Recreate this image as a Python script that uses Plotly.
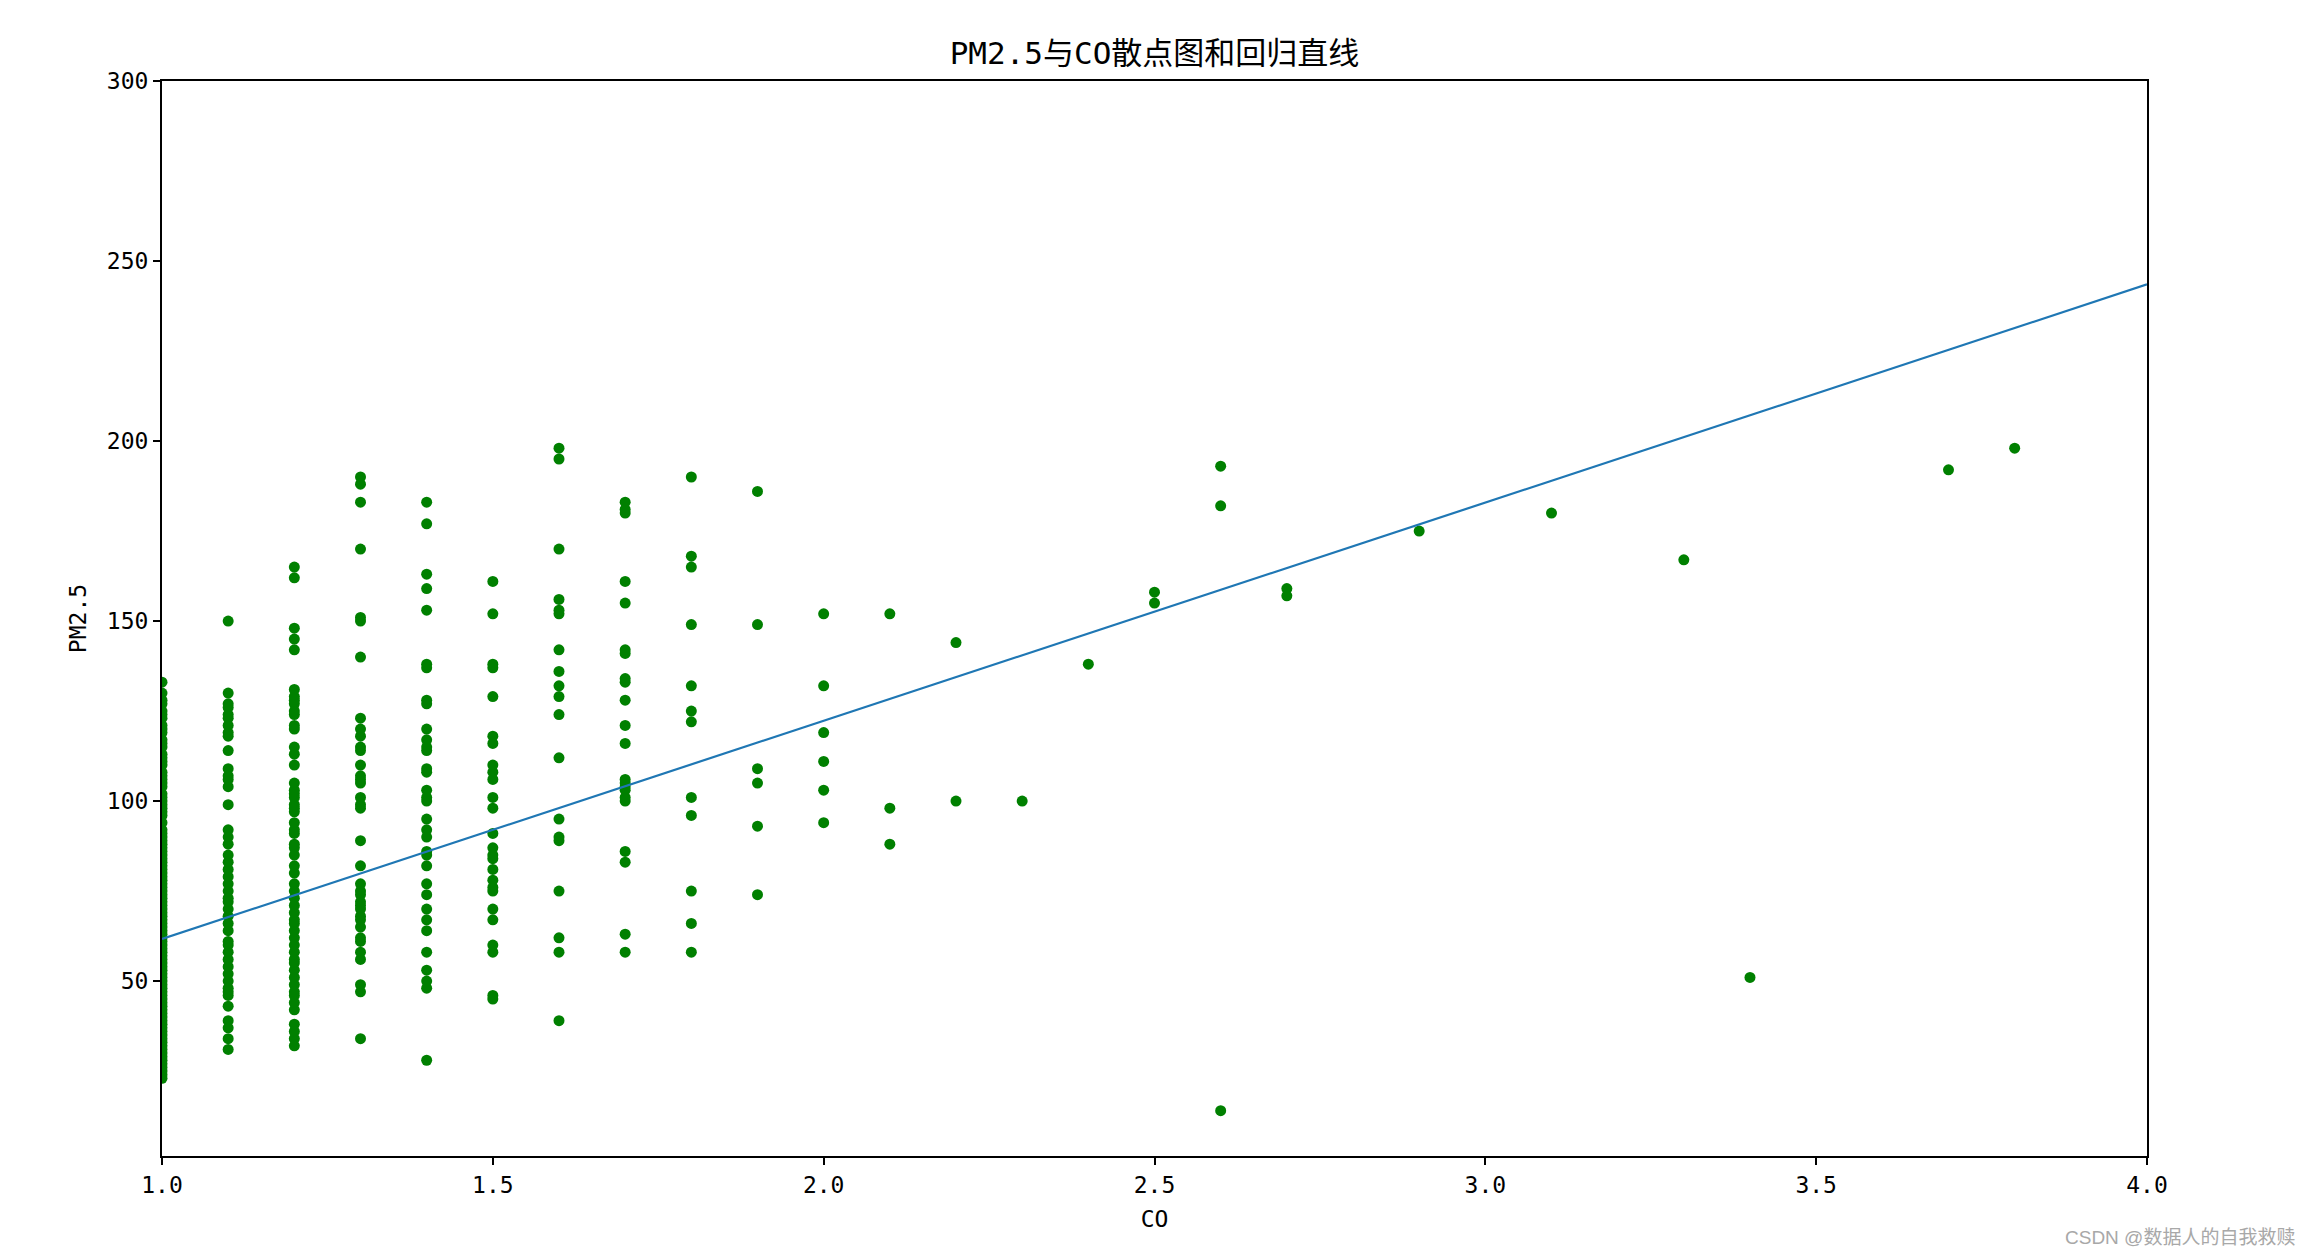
import plotly.graph_objects as go

# ---- data ----
# PM2.5 values observed at each CO level
pm_co_10 = [133, 130, 128, 127, 125, 124, 123, 121, 120, 119, 117, 116, 115, 113, 112, 111,
            110, 108, 107, 106, 105, 104, 102, 101, 100, 99, 98, 97, 96, 94, 92, 91, 90, 89,
            88, 87, 86, 85, 84, 83, 82, 81, 80, 79, 78, 77, 76, 75, 74, 73, 72, 71, 70, 69,
            68, 67, 66, 65, 64, 63, 62, 61, 60, 59, 58, 57, 56, 55, 54, 53, 52, 51, 50, 49,
            48, 47, 46, 45, 44, 43, 42, 41, 40, 39, 38, 37, 36, 35, 34, 33, 32, 31, 30, 29,
            28, 27, 26, 25, 24, 23]
pm_co_11 = [150, 130, 127, 126, 124, 123, 121, 119, 118, 114, 109, 107, 106, 104, 99,
            92, 90, 88, 85, 83, 81, 79, 77, 75, 73, 72, 70, 68, 66, 64, 61, 60, 58, 56,
            54, 52, 50, 48, 47, 46, 43, 39, 37, 34, 31]
pm_co_12 = [165, 162, 148, 145, 142, 131, 129, 128, 127, 125, 124, 121, 120, 115, 113,
            110, 105, 103, 102, 101, 99, 98, 97, 94, 92, 91, 88, 87, 85, 82, 80, 77, 75,
            73, 71, 69, 67, 66, 64, 62, 60, 58, 56, 55, 53, 51, 49, 47, 46, 44, 42, 38,
            36, 34, 32]
pm_co_13 = [190, 188, 183, 170, 151, 150, 140, 123, 120, 118, 115, 114, 110, 107, 106,
            105, 101, 99, 98, 89, 82, 77, 75, 74, 72, 71, 70, 68, 67, 65, 62, 61, 58, 56,
            49, 47, 34]
pm_co_14 = [183, 177, 163, 159, 153, 138, 137, 128, 127, 120, 117, 115, 114, 109, 108,
            103, 101, 100, 95, 92, 90, 86, 85, 82, 77, 74, 70, 67, 64, 58, 53, 50, 48, 28]
pm_co_15 = [161, 152, 138, 137, 129, 118, 116, 110, 108, 106, 101, 98, 91, 87, 85, 84,
            81, 78, 76, 75, 70, 67, 60, 58, 46, 45]
pm_co_16 = [198, 195, 170, 156, 153, 152, 142, 136, 132, 129, 124, 112, 95, 90, 89, 75,
            62, 58, 39]
pm_co_17 = [183, 181, 180, 161, 155, 142, 141, 134, 133, 128, 121, 116, 106, 105, 104,
            103, 101, 100, 86, 83, 63, 58]
pm_co_18 = [190, 168, 165, 149, 132, 125, 122, 101, 96, 75, 66, 58]
pm_co_19 = [186, 149, 109, 105, 93, 74]
pm_co_20 = [152, 132, 119, 111, 103, 94]
pm_co_21 = [152, 98, 88]
pm_co_22 = [144, 100]
pm_co_23 = [100]
pm_co_24 = [138]
pm_co_25 = [158, 155]
pm_co_26 = [193, 182, 14]
pm_co_27 = [159, 157]
pm_co_29 = [175]
pm_co_31 = [180]
pm_co_33 = [167]
pm_co_34 = [51]
pm_co_37 = [192]
pm_co_38 = [198]

co_levels = [1.0, 1.1, 1.2, 1.3, 1.4, 1.5, 1.6, 1.7, 1.8, 1.9, 2.0, 2.1, 2.2, 2.3, 2.4,
             2.5, 2.6, 2.7, 2.9, 3.1, 3.3, 3.4, 3.7, 3.8]
pm_groups = [pm_co_10, pm_co_11, pm_co_12, pm_co_13, pm_co_14, pm_co_15, pm_co_16,
             pm_co_17, pm_co_18, pm_co_19, pm_co_20, pm_co_21, pm_co_22, pm_co_23,
             pm_co_24, pm_co_25, pm_co_26, pm_co_27, pm_co_29, pm_co_31, pm_co_33,
             pm_co_34, pm_co_37, pm_co_38]

# regression line end points
line_co = [1.0, 4.0]
line_pm = [61.7, 243.5]

x_ticks = [1.0, 1.5, 2.0, 2.5, 3.0, 3.5, 4.0]
y_ticks = [50, 100, 150, 200, 250, 300]

title_text = "PM2.5与CO散点图和回归直线"
x_label = "CO"
y_label = "PM2.5"
watermark = "CSDN @数据人的自我救赎"

# ---- build flattened scatter data ----
co_all, pm_all = [], []
for lvl, grp in zip(co_levels, pm_groups):
    for v in grp:
        co_all.append(lvl)
        pm_all.append(v)

# page body has an 8px margin; compensate so the plot lands where the reference has it
OFF = 8
W, H = 2312 - OFF, 1258 - OFF
L, R, T, B = 162 - OFF, 2147 - OFF, 81 - OFF, 1156 - OFF

FONT = "DejaVu Sans Mono, Noto Sans CJK SC, sans-serif"

fig = go.Figure()
fig.add_trace(go.Scatter(
    x=co_all, y=pm_all, mode="markers",
    marker=dict(color="#008000", size=11, line=dict(width=0)),
    cliponaxis=True, showlegend=False, hoverinfo="x+y"))
fig.add_trace(go.Scatter(
    x=line_co, y=line_pm, mode="lines",
    line=dict(color="#1f77b4", width=2.2), showlegend=False))

fig.update_layout(
    width=W, height=H,
    margin=dict(l=L, r=W - R, t=T, b=H - B, pad=0),
    paper_bgcolor="white", plot_bgcolor="white",
    font=dict(family=FONT, size=23, color="black"),
    title=dict(text=title_text, x=0.5, xref="paper",
               y=1 - (53 - OFF) / H, yref="container", xanchor="center", yanchor="middle",
               font=dict(family=FONT, size=31, color="black")),
    xaxis=dict(range=[1.0, 4.0], tickvals=x_ticks, tickformat=".1f",
               showline=True, linecolor="black", linewidth=2, mirror=True,
               ticks="outside", ticklen=7, tickwidth=1.5, tickcolor="black",
               showgrid=False, zeroline=False,
               title=dict(text=x_label, standoff=14, font=dict(size=23)),
               tickfont=dict(size=23)),
    yaxis=dict(range=[1.4, 300], tickvals=y_ticks,
               showline=True, linecolor="black", linewidth=2, mirror=True,
               ticks="outside", ticklen=7, tickwidth=1.5, tickcolor="black",
               showgrid=False, zeroline=False,
               title=dict(text=y_label, standoff=14, font=dict(size=23)),
               tickfont=dict(size=23)),
    annotations=[dict(text=watermark, xref="paper", yref="paper",
                      x=(2297 - OFF - L) / (R - L), y=(B - (1237 - OFF)) / (B - T),
                      xanchor="right", yanchor="middle", showarrow=False,
                      font=dict(family="Liberation Sans, Noto Sans CJK SC, sans-serif",
                                size=19, color="#a8a8a8"))],
)

fig.write_html("out.html")
